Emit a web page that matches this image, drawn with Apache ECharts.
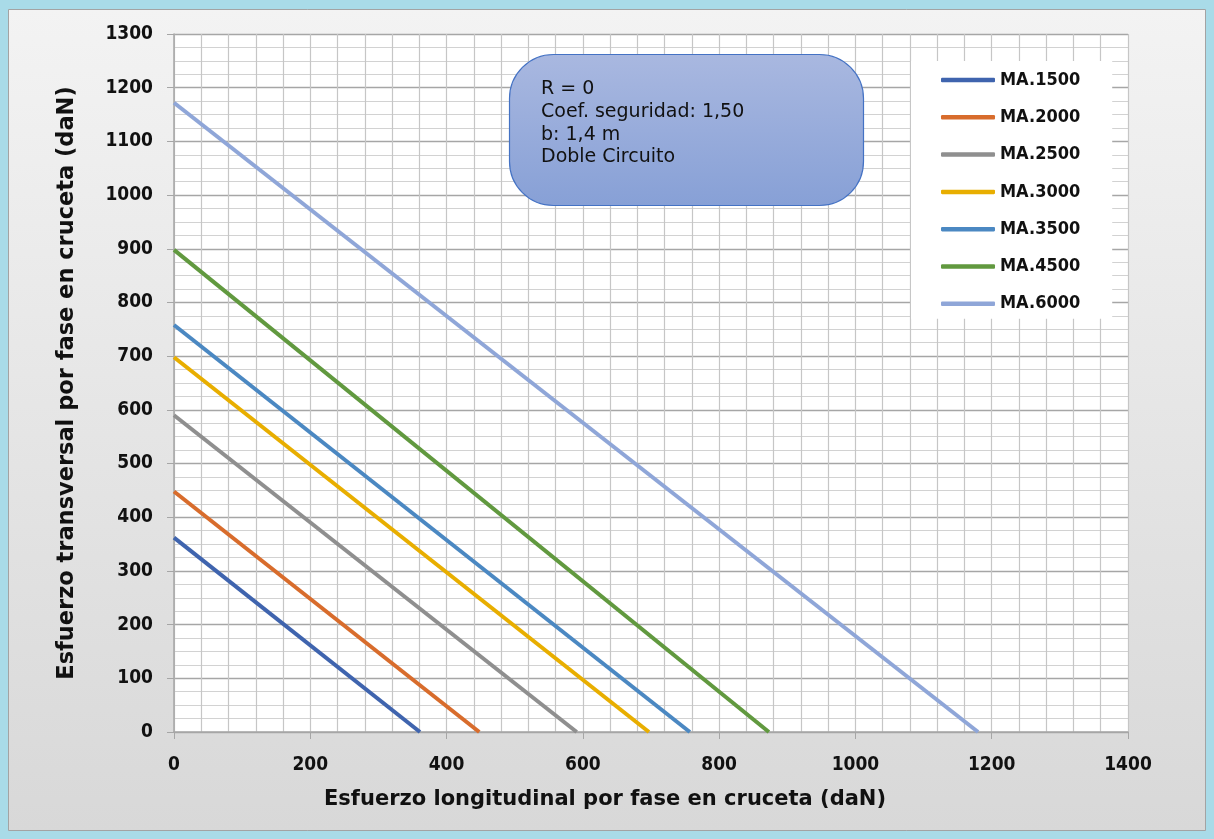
<!DOCTYPE html>
<html>
<head>
<meta charset="utf-8">
<script src="https://cdn.jsdelivr.net/npm/echarts@6/dist/echarts.min.js"></script>
<style>
html,body{margin:0;padding:0;background:#a9dbe8;}
#chart{width:1214px;height:839px;}
</style>
</head>
<body>
<div id="chart"></div>
<script>
const seriesNames = ['MA.1500','MA.2000','MA.2500','MA.3000','MA.3500','MA.4500','MA.6000'];
const yIntercepts = [362, 448, 590, 698, 758, 898, 1172];
const xIntercepts = [361, 448, 591, 697, 757, 873, 1180];
const colors = ['#3f64ae','#d86c2c','#8f8f8f','#e8ae00','#4b88c2','#61993f','#8fa6d8'];
const xTicks = [0, 200, 400, 600, 800, 1000, 1200, 1400];
const yTicks = [0,100,200,300,400,500,600,700,800,900,1000,1100,1200,1300];
const noteLines = ['R = 0','Coef. seguridad: 1,50','b: 1,4 m','Doble Circuito'];
const xTitle = 'Esfuerzo longitudinal por fase en cruceta (daN)';
const yTitle = 'Esfuerzo transversal por fase en cruceta (daN)';

const FONT = '"DejaVu Sans Condensed","DejaVu Sans",sans-serif';
const WIDE = '"DejaVu Sans",sans-serif';
const chart = echarts.init(document.getElementById('chart'), null, {renderer:'canvas'});

const series = seriesNames.map((n,i)=>({
  name:n, type:'line', symbol:'none', showSymbol:false,
  data:[[0, yIntercepts[i]],[xIntercepts[i], 0]],
  lineStyle:{color:colors[i], width:4},
  itemStyle:{color:colors[i]},
  z:5
}));

chart.setOption({
  animation:false,
  backgroundColor:'#a9dbe8',
  graphic:[
    {type:'rect', z:-100, silent:true,
     shape:{x:8.5,y:9.5,width:1197,height:821},
     style:{fill:new echarts.graphic.LinearGradient(0,0,0,1,[{offset:0,color:'#f3f3f3'},{offset:1,color:'#d8d8d8'}]),
            stroke:'#a3a3a3', lineWidth:1}},
    {type:'rect', z:100, silent:true,
     shape:{x:509.5,y:54.5,width:354,height:151,r:44},
     style:{fill:new echarts.graphic.LinearGradient(0,0,0,1,[{offset:0,color:'#a9b8e0'},{offset:1,color:'#87a0d6'}]),
            stroke:'#4472c4', lineWidth:1.2}},
    {type:'text', z:101, silent:true, left:541, top:78,
     style:{text:noteLines.join('\n'), fill:'#111', font:'19px "DejaVu Sans",sans-serif', lineHeight:22.7}}
  ],
  grid:{left:174, right:86, top:34, bottom:107, show:true, backgroundColor:'#ffffff', borderWidth:0},
  legend:{
    orient:'vertical', left:911, top:61,
    backgroundColor:'#ffffff',
    padding:[10,32,6,30],
    icon:'roundRect',
    itemWidth:54, itemHeight:4.5, itemGap:19.3,
    textStyle:{fontFamily:FONT, fontWeight:'bold', fontSize:18, color:'#111'},
    data:seriesNames
  },
  xAxis:{
    type:'value', min:0, max:1400, interval:200,
    axisLine:{show:true, onZero:false, lineStyle:{color:'#a6a6a6', width:1.5}},
    axisTick:{show:true, length:7, lineStyle:{color:'#a6a6a6'}},
    axisLabel:{margin:24, fontFamily:FONT, fontWeight:'bold', fontSize:19, color:'#111',
               formatter:v=>xTicks.includes(v)?String(v):''},
    splitLine:{show:true, lineStyle:{color:'#c6c6c6', width:1.2}},
    minorTick:{show:false, splitNumber:5},
    minorSplitLine:{show:true, lineStyle:{color:'#c6c6c6', width:1.2}},
    name:xTitle, nameLocation:'middle', nameGap:57,
    nameTextStyle:{fontFamily:WIDE, fontWeight:'bold', fontSize:21, color:'#111', padding:[0,92,0,0]}
  },
  yAxis:{
    type:'value', min:0, max:1300, interval:100,
    axisLine:{show:true, lineStyle:{color:'#a6a6a6', width:1.5}},
    axisTick:{show:true, length:7, lineStyle:{color:'#a6a6a6'}},
    axisLabel:{margin:21, fontFamily:FONT, fontWeight:'bold', fontSize:19, color:'#111',
               formatter:v=>yTicks.includes(v)?String(v):''},
    splitLine:{show:true, lineStyle:{color:'#a6a6a6', width:1.3}},
    minorTick:{show:false, splitNumber:4},
    minorSplitLine:{show:true, lineStyle:{color:'#d2d2d2', width:1.2}},
    name:yTitle, nameLocation:'middle', nameGap:95,
    nameTextStyle:{fontFamily:WIDE, fontWeight:'bold', fontSize:22.5, color:'#111'}
  },
  series:series
});
</script>
</body>
</html>
